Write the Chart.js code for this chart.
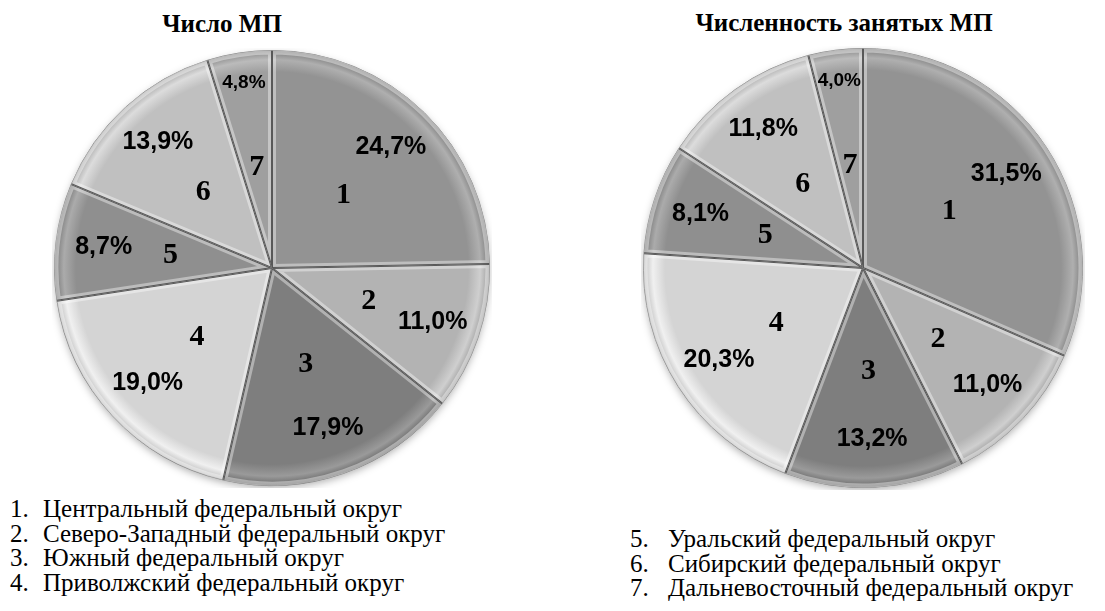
<!DOCTYPE html>
<html>
<head>
<meta charset="utf-8">
<script src="https://cdn.jsdelivr.net/npm/chart.js@4.4.1/dist/chart.umd.min.js"></script>
<style>
  body { margin: 0; background: #fff; }
  #page { position: relative; width: 1105px; height: 611px; overflow: hidden; font-family: "Liberation Serif", "Times New Roman", serif; color: #000; }
  .title { position: absolute; font-weight: bold; font-size: 25px; white-space: nowrap; transform: translateX(-50%); line-height: normal; }
  .legend { position: absolute; font-size: 25px; white-space: nowrap; }
  .legend div { position: relative; height: 24.5px; line-height: 24.5px; }
  .legend span { position: absolute; left: 0; top: 0; }
  #legendLeft div { padding-left: 33px; }
  #legendRight div { padding-left: 38px; }
  #boxFirms { position: absolute; left: 52px; top: 48px; width: 440px; height: 440px; }
  #boxEmployed { position: absolute; left: 641px; top: 46px; width: 444px; height: 444px; }
</style>
</head>
<body>
<div id="page">
  <div class="title" style="left:222px; top:10px;">Число МП</div>
  <div class="title" style="left:844px; top:9px;">Численность занятых МП</div>
  <div id="boxFirms"><canvas id="chartFirms"></canvas></div>
  <div id="boxEmployed"><canvas id="chartEmployed"></canvas></div>
  <div class="legend" id="legendLeft" style="left:10px; top:497px;"></div>
  <div class="legend" id="legendRight" style="left:630px; top:527px;"></div>
</div>
<script>
// номера секторов и названия округов
const sliceNumbers = ['1', '2', '3', '4', '5', '6', '7'];
const districts = [
  'Центральный федеральный округ',
  'Северо-Западный федеральный округ',
  'Южный федеральный округ',
  'Приволжский федеральный округ',
  'Уральский федеральный округ',
  'Сибирский федеральный округ',
  'Дальневосточный федеральный округ'
];

// доли, %
const firmsShare = [24.7, 11.0, 17.9, 19.0, 8.7, 13.9, 4.8];
const employedShare = [31.5, 11.0, 13.2, 20.3, 8.1, 11.8, 4.0];

// оттенки серого для секторов
const sliceGrays = ['#939393', '#b3b3b3', '#7e7e7e', '#d4d4d4', '#8f8f8f', '#c0c0c0', '#9f9f9f'];

// легенда под диаграммами (1-4 слева, 5-7 справа)
function fillLegend(id, from, to) {
  const box = document.getElementById(id);
  for (let i = from; i < to; i++) {
    box.innerHTML += `<div><span>${sliceNumbers[i]}.</span>${districts[i]}</div>`;
  }
}
fillLegend('legendLeft', 0, 4);
fillLegend('legendRight', 4, 7);

function shade(hex, d) {
  const v = Math.max(0, Math.min(255, parseInt(hex.slice(1, 3), 16) + d));
  return `rgb(${v},${v},${v})`;
}

// заливка с "объёмным" ободком
function bevelFill(ctx) {
  const base = sliceGrays[ctx.dataIndex % sliceGrays.length];
  const area = ctx.chart.chartArea;
  if (!area) return base;
  const cx = (area.left + area.right) / 2, cy = (area.top + area.bottom) / 2;
  const r = Math.min(area.right - area.left, area.bottom - area.top) / 2;
  const g = ctx.chart.ctx.createRadialGradient(cx, cy, 0, cx, cy, r);
  g.addColorStop(0, base);
  g.addColorStop(0.9, base);
  g.addColorStop(0.955, shade(base, 28));
  g.addColorStop(1, shade(base, -25));
  return g;
}

// тень под кругом, светлая кромка секторов, подписи
const pieDecor = {
  id: 'pieDecor',
  beforeDatasetsDraw(chart) {
    const a = chart.getDatasetMeta(0).data[0];
    if (!a) return;
    const ctx = chart.ctx;
    ctx.save();
    ctx.shadowColor = 'rgba(0,0,0,0.35)';
    ctx.shadowBlur = 8;
    ctx.shadowOffsetY = 3;
    ctx.fillStyle = '#999';
    ctx.beginPath();
    ctx.arc(a.x, a.y, a.outerRadius - 1, 0, Math.PI * 2);
    ctx.fill();
    ctx.restore();
  },
  afterDatasetsDraw(chart) {
    const ctx = chart.ctx;
    const values = chart.data.datasets[0].data;
    const arcs = chart.getDatasetMeta(0).data;
    arcs.forEach(arc => {
      const p = arc.getProps(['x', 'y', 'startAngle', 'endAngle', 'outerRadius'], true);
      ctx.save();
      ctx.beginPath();
      ctx.moveTo(p.x, p.y);
      ctx.arc(p.x, p.y, p.outerRadius, p.startAngle, p.endAngle);
      ctx.closePath();
      ctx.clip();
      ctx.strokeStyle = 'rgba(255,255,255,0.4)';
      ctx.lineWidth = 8;
      ctx.stroke();
      ctx.beginPath();
      ctx.moveTo(p.x + Math.cos(p.startAngle) * p.outerRadius, p.y + Math.sin(p.startAngle) * p.outerRadius);
      ctx.lineTo(p.x, p.y);
      ctx.lineTo(p.x + Math.cos(p.endAngle) * p.outerRadius, p.y + Math.sin(p.endAngle) * p.outerRadius);
      ctx.strokeStyle = 'rgba(70,70,70,0.85)';
      ctx.lineWidth = 2;
      ctx.stroke();
      ctx.restore();
    });
    arcs.forEach((arc, i) => {
      const p = arc.getProps(['x', 'y', 'startAngle', 'endAngle', 'outerRadius'], true);
      const mid = (p.startAngle + p.endAngle) / 2;
      const small = values[i] < 6;
      ctx.save();
      ctx.fillStyle = '#000';
      ctx.textAlign = 'center';
      ctx.textBaseline = 'middle';
      const rn = p.outerRadius * 0.47;
      ctx.font = 'bold 30px "Liberation Serif"';
      ctx.fillText(sliceNumbers[i], p.x + Math.cos(mid) * rn, p.y + Math.sin(mid) * rn);
      const rp = p.outerRadius * (small ? 0.86 : 0.78);
      ctx.font = small ? 'bold 19px "Liberation Sans"' : 'bold 25px "Liberation Sans"';
      const txt = values[i].toFixed(1).replace('.', ',') + '%';
      ctx.fillText(txt, p.x + Math.cos(mid) * rp, p.y + Math.sin(mid) * rp);
      ctx.restore();
    });
  }
};

function makePie(id, values) {
  return new Chart(document.getElementById(id), {
    type: 'pie',
    data: {
      labels: districts,
      datasets: [{ data: values, backgroundColor: bevelFill, borderColor: '#8a8a8a', borderWidth: 1 }]
    },
    options: {
      responsive: true,
      maintainAspectRatio: false,
      animation: false,
      layout: { padding: 2 },
      plugins: { legend: { display: false }, tooltip: { enabled: false } }
    },
    plugins: [pieDecor]
  });
}

makePie('chartFirms', firmsShare);
makePie('chartEmployed', employedShare);
</script>
</body>
</html>
